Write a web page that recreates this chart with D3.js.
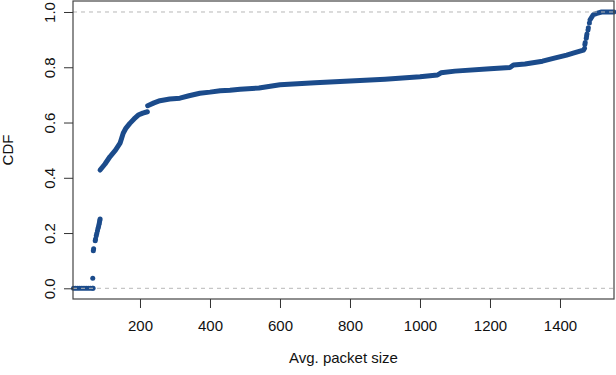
<!DOCTYPE html>
<html><head><meta charset="utf-8">
<script src="https://cdn.jsdelivr.net/npm/d3@7"></script>
<style>body{margin:0;background:#fff}svg{display:block}text{font-family:"Liberation Sans",Arial,Helvetica,sans-serif;fill:#111}</style>
</head><body><svg id="c" width="616" height="375"></svg>
<script>
// Avg. packet size (x) and CDF (y)
const zeroX = [10, 16, 22, 28, 34, 40, 46, 52, 58, 64, 66];
const zeroY = [0, 0, 0, 0, 0, 0, 0, 0, 0, 0, 0];
const sparseX = [65, 66.6, 67.5, 72, 73, 75, 76.5, 78.5, 80, 81.5, 83, 84, 85, 86];
const sparseY = [0.036, 0.136, 0.143, 0.172, 0.178, 0.190, 0.198, 0.208, 0.217, 0.224, 0.232, 0.238, 0.245, 0.251];
const curveAX = [86, 100, 114, 130, 143, 152, 160, 171, 183, 195, 208, 221];
const curveAY = [0.428, 0.45, 0.476, 0.50, 0.525, 0.561, 0.58, 0.597, 0.613, 0.627, 0.634, 0.639];
const curveBX = [222, 240, 257, 285, 314, 340, 371, 400, 429, 457, 486, 540, 600, 700, 800, 900, 1000, 1050, 1060, 1100, 1200, 1257, 1267, 1300, 1350, 1381, 1419, 1440, 1467, 1470];
const curveBY = [0.661, 0.671, 0.679, 0.685, 0.688, 0.697, 0.706, 0.710, 0.715, 0.717, 0.720, 0.725, 0.737, 0.744, 0.750, 0.757, 0.766, 0.772, 0.780, 0.786, 0.795, 0.799, 0.808, 0.812, 0.822, 0.832, 0.844, 0.852, 0.862, 0.868];
const jumpX = [1471, 1472, 1475, 1476, 1477, 1480, 1481, 1484];
const jumpY = [0.882, 0.89, 0.905, 0.913, 0.92, 0.935, 0.943, 0.96];
const topX = [1486, 1490, 1495, 1505, 1519, 1535, 1554];
const topY = [0.972, 0.98, 0.99, 0.995, 1.0, 1.0, 1.0];
const xTicks = [200, 400, 600, 800, 1000, 1200, 1400];
const yTicks = [0, 0.2, 0.4, 0.6, 0.8, 1.0];
const refLines = [0, 1];

const svg = d3.select("#c");
const L = 73, R = 614, T = 1, B = 299;
const x = d3.scaleLinear().domain([8.57, 1554.3]).range([L, R]);
const y = d3.scaleLinear().domain([-0.0387, 1.0398]).range([B, T]);
const col = "#1b4b8b";

const zip = (a, b) => a.map((v, i) => [v, b[i]]);
const line = d3.line().x(d => x(d[0])).y(d => y(d[1]));

// points
const dots = zip(zeroX, zeroY).concat(zip(sparseX, sparseY), zip(jumpX, jumpY));
svg.append("g").selectAll("circle").data(dots).join("circle")
  .attr("cx", d => x(d[0])).attr("cy", d => y(d[1])).attr("r", 2.5).attr("fill", col);
[zip(curveAX, curveAY), zip(curveBX, curveBY), zip(topX, topY)].forEach(seg => {
  svg.append("path").attr("d", line(seg)).attr("fill", "none").attr("stroke", col)
    .attr("stroke-width", 5).attr("stroke-linecap", "round").attr("stroke-linejoin", "round");
});

// reference lines
svg.append("g").selectAll("line").data(refLines).join("line")
  .attr("x1", L).attr("x2", R).attr("y1", d => y(d)).attr("y2", d => y(d))
  .attr("stroke", "#b8b8b8").attr("stroke-width", 1).attr("stroke-dasharray", "4,4");

// box
svg.append("rect").attr("x", L).attr("y", T).attr("width", R - L).attr("height", B - T)
  .attr("fill", "none").attr("stroke", "#444").attr("stroke-width", 1.2);

// x axis
const xa = svg.append("g").attr("transform", `translate(0,${B})`)
  .call(d3.axisBottom(x).tickValues(xTicks).tickFormat(d3.format("d")).tickSize(9).tickPadding(12));
xa.select(".domain").remove();
xa.selectAll("line").attr("stroke", "#333");
xa.selectAll("text").attr("font-size", 15).attr("fill", "#111");

// y axis
const ya = svg.append("g").attr("transform", `translate(${L},0)`)
  .call(d3.axisLeft(y).tickValues(yTicks).tickFormat(d3.format(".1f")).tickSize(9));
ya.select(".domain").remove();
ya.selectAll("line").attr("stroke", "#333");
ya.selectAll("text").remove();
ya.selectAll(".tick").append("text").attr("transform", "translate(-23,0) rotate(-90)")
  .attr("text-anchor", "middle").attr("dy", "0.35em").attr("font-size", 15).text(d => d3.format(".1f")(d));

// titles
svg.append("text").attr("x", (L + R) / 2).attr("y", 363).attr("text-anchor", "middle")
  .attr("font-size", 15).text("Avg. packet size");
svg.append("text").attr("transform", `translate(13,${(T + B) / 2}) rotate(-90)`)
  .attr("text-anchor", "middle").attr("font-size", 15).text("CDF");
</script></body></html>
